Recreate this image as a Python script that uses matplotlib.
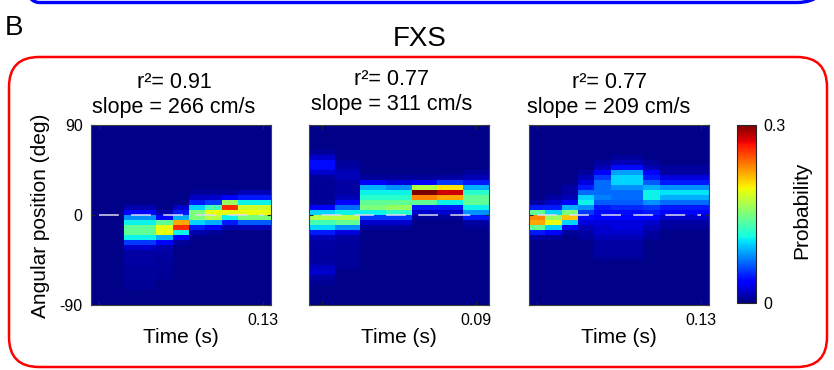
import numpy as np
import matplotlib.pyplot as plt
from matplotlib.patches import FancyBboxPatch
from matplotlib.transforms import IdentityTransform

plt.rcParams['font.family'] = ['Liberation Sans', 'DejaVu Sans']

W, H = 834, 370

# decoded position maps: 36 angular bins of 5 deg, row 0 = +90 (top)
n_rows = 36
background = 0.003
vmax = 0.3

# each column: first row that is listed, then the probabilities going down
p1_start = [0, 0, 16, 16, 17, 16, 13, 13, 13, 13, 13]
p1_cols = [
    [],
    [],
    [0.012, 0.035, 0.08, 0.11, 0.14, 0.14, 0.11, 0.055, 0.02, 0.01, 0.01, 0.01, 0.009, 0.008, 0.008, 0.007, 0.006],
    [0.012, 0.035, 0.08, 0.11, 0.14, 0.14, 0.11, 0.055, 0.02, 0.01, 0.01, 0.01, 0.009, 0.008, 0.008, 0.007, 0.006],
    [0.012, 0.035, 0.14, 0.19, 0.19, 0.09, 0.035, 0.012, 0.01, 0.009, 0.008, 0.008, 0.007, 0.006],
    [0.02, 0.045, 0.09, 0.22, 0.26, 0.11, 0.035, 0.008],
    [0.008, 0.018, 0.045, 0.1, 0.15, 0.15, 0.1, 0.045, 0.012],
    [0.008, 0.02, 0.055, 0.13, 0.19, 0.17, 0.09, 0.035, 0.008],
    [0.008, 0.035, 0.16, 0.26, 0.19, 0.11, 0.045, 0.012],
    [0.015, 0.045, 0.11, 0.18, 0.19, 0.15, 0.065, 0.015],
    [0.015, 0.045, 0.11, 0.18, 0.19, 0.15, 0.065, 0.015],
]

p2_start = [5, 7, 10, 10, 10, 10, 9]
p2_cols = [
    [0.008, 0.02, 0.04, 0.04, 0.02, 0.008, 0.006, 0.006, 0.006, 0.007, 0.008, 0.035, 0.1, 0.17,
     0.13, 0.1, 0.045, 0.015, 0.01, 0.01, 0.009, 0.009, 0.01, 0.018, 0.02, 0.01, 0.007],
    [0.008, 0.01, 0.015, 0.015, 0.01, 0.01, 0.01, 0.015, 0.035, 0.07, 0.11, 0.17, 0.14, 0.08,
     0.025, 0.01, 0.009, 0.008, 0.008, 0.008, 0.008, 0.007],
    [0.008, 0.035, 0.09, 0.11, 0.12, 0.14, 0.15, 0.11, 0.055, 0.02, 0.008],
    [0.008, 0.025, 0.08, 0.11, 0.12, 0.14, 0.16, 0.12, 0.055, 0.02, 0.008],
    [0.008, 0.035, 0.17, 0.3, 0.23, 0.14, 0.045, 0.02, 0.008],
    [0.01, 0.055, 0.2, 0.28, 0.22, 0.11, 0.045, 0.02, 0.008],
    [0.008, 0.015, 0.045, 0.09, 0.12, 0.14, 0.14, 0.11, 0.08, 0.045, 0.01, 0.006],
]

p3_start = [15, 14, 12, 9, 7, 6, 6, 7, 8, 8, 8]
p3_cols = [
    [0.01, 0.045, 0.14, 0.23, 0.22, 0.14, 0.045, 0.01],
    [0.01, 0.02, 0.045, 0.1, 0.16, 0.19, 0.1, 0.035, 0.008],
    [0.01, 0.01, 0.015, 0.035, 0.09, 0.15, 0.21, 0.1, 0.035, 0.008],
    [0.008, 0.015, 0.025, 0.045, 0.07, 0.1, 0.11, 0.08, 0.055, 0.04, 0.025, 0.015, 0.01, 0.008],
    [0.008, 0.015, 0.035, 0.055, 0.07, 0.07, 0.07, 0.075, 0.065, 0.045, 0.04, 0.035, 0.025, 0.02,
     0.02, 0.015, 0.01, 0.01, 0.01, 0.008],
    [0.008, 0.015, 0.04, 0.085, 0.1, 0.1, 0.08, 0.07, 0.07, 0.065, 0.05, 0.04, 0.035, 0.025,
     0.025, 0.02, 0.015, 0.01, 0.01, 0.01, 0.008],
    [0.008, 0.015, 0.04, 0.085, 0.1, 0.1, 0.08, 0.07, 0.07, 0.065, 0.05, 0.04, 0.035, 0.025,
     0.025, 0.02, 0.015, 0.01, 0.01, 0.01, 0.008],
    [0.008, 0.015, 0.035, 0.045, 0.065, 0.09, 0.11, 0.11, 0.08, 0.055, 0.045, 0.035, 0.02, 0.015, 0.01, 0.008],
    [0.008, 0.01, 0.025, 0.045, 0.08, 0.105, 0.09, 0.07, 0.045, 0.035, 0.02, 0.01, 0.008],
    [0.008, 0.01, 0.025, 0.045, 0.08, 0.105, 0.09, 0.07, 0.045, 0.035, 0.02, 0.01, 0.008],
    [0.008, 0.01, 0.025, 0.045, 0.08, 0.105, 0.09, 0.07, 0.045, 0.035, 0.02, 0.01, 0.008],
]

r2_labels = ['0.91', '0.77', '0.77']
slope_labels = ['266', '311', '209']
time_end_labels = ['0.13', '0.09', '0.13']


def build(starts, cols):
    m = np.full((n_rows, len(cols)), background)
    for j, (s, v) in enumerate(zip(starts, cols)):
        m[s:s + len(v), j] = v
    return m


def px(l, t, r, b):
    return [l / W, 1 - b / H, (r - l) / W, (b - t) / H]


maps = [build(p1_start, p1_cols), build(p2_start, p2_cols), build(p3_start, p3_cols)]

fig = plt.figure(figsize=(W / 100, H / 100), dpi=100)

# frames around the panels (blue one belongs to panel A above)
fig.add_artist(FancyBboxPatch((9, 367.5), 818, 200, boxstyle='round,pad=0,rounding_size=30',
                              transform=IdentityTransform(), fill=False, edgecolor='blue', lw=2.4))
fig.add_artist(FancyBboxPatch((9, 3), 818, 310, boxstyle='round,pad=0,rounding_size=30',
                              transform=IdentityTransform(), fill=False, edgecolor='red', lw=1.8))

fig.text(5 / W, 1 - 35 / H, 'B', fontsize=20, ha='left', va='baseline')
fig.text(420 / W, 1 - 46 / H, 'FXS', fontsize=20, ha='center', va='baseline')

lefts = [91, 309, 529]
title_x = [174, 392, 609]
title_y = [(88, 113), (85, 110), (88, 113)]

for i, m in enumerate(maps):
    ncol = m.shape[1]
    ax = fig.add_axes(px(lefts[i], 125, lefts[i] + 180, 305))
    im = ax.imshow(m, cmap='jet', vmin=0, vmax=vmax, aspect='auto', interpolation='nearest',
                   extent=(-0.5, ncol - 0.5, -90, 90))
    ax.plot([0, ncol - 1], [0, 0], color='#dcdcf0', lw=1.1, ls=(0, (13, 8)))
    ax.set_xlim(-0.5, ncol - 0.5)
    ax.set_ylim(-90, 90)
    ax.set_xticks([0, ncol - 1])
    ax.set_xticklabels(['', time_end_labels[i]])
    ax.set_yticks([-90, 0, 90])
    ax.set_yticklabels(['-90', '0', '90'])
    ax.tick_params(direction='in', length=3, width=0.8, top=True, right=True,
                   color='#262626', labelsize=11.5, pad=6, labelleft=(i == 0))
    for s in ax.spines.values():
        s.set_color('#404040')
        s.set_linewidth(0.8)
    ax.set_xlabel('Time (s)', fontsize=15, labelpad=0)

    fig.text(title_x[i] / W, 1 - title_y[i][0] / H, 'r²= ' + r2_labels[i],
             fontsize=15.5, ha='center', va='baseline')
    fig.text(title_x[i] / W, 1 - title_y[i][1] / H, 'slope = ' + slope_labels[i] + ' cm/s',
             fontsize=15.5, ha='center', va='baseline')

fig.text(41 / W, 1 - 216 / H, 'Angular position (deg)', fontsize=15, rotation=90,
         ha='center', va='center')

cax = fig.add_axes(px(737, 125, 756, 303))
cb = fig.colorbar(im, cax=cax, ticks=[0, vmax])
cb.ax.set_yticklabels(['0', '0.3'])
cb.ax.tick_params(length=0, labelsize=11.5, pad=5)
cb.outline.set_edgecolor('#262626')
cb.outline.set_linewidth(0.8)
fig.text(802 / W, 1 - 210 / H, 'Probability', fontsize=15, rotation=90, ha='center', va='center')

fig.savefig('out.png', dpi=100)
